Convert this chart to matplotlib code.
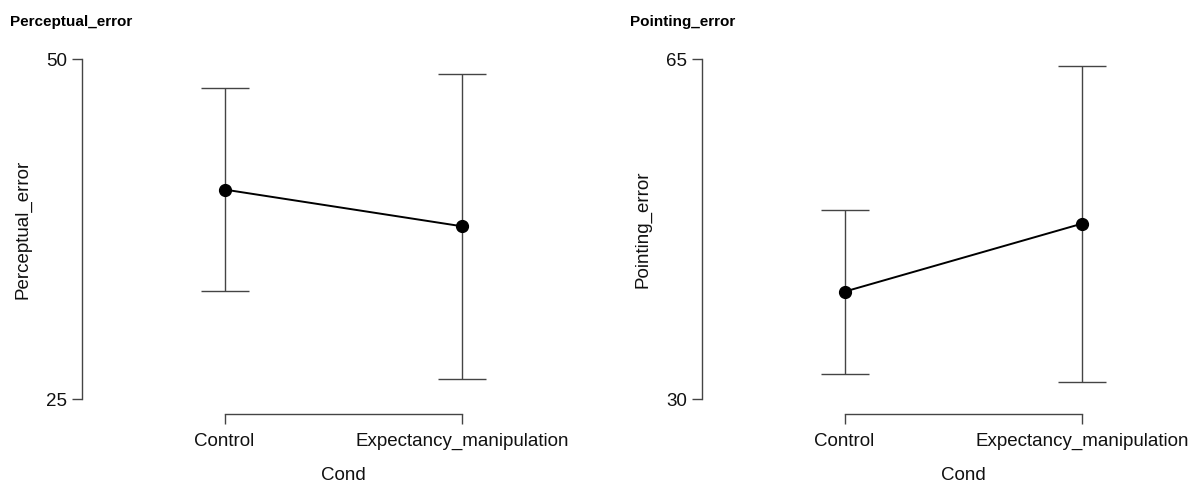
import matplotlib
matplotlib.use("Agg")
import matplotlib.pyplot as plt

plt.rcParams['font.family'] = ['Liberation Sans', 'DejaVu Sans']

# ---- data ----
conds = ["Control", "Expectancy_manipulation"]

perc_mean = [40.4, 37.7]
perc_ci = [7.45, 11.2]

point_mean = [41.05, 48.05]
point_ci = [8.45, 16.25]

panels = [
    ("Perceptual_error", perc_mean, perc_ci, (25, 50)),
    ("Pointing_error", point_mean, point_ci, (30, 65)),
]

W, H = 1195, 484
fig = plt.figure(figsize=(W / 100, H / 100), dpi=100)

# pixel layout of each plot region
lefts = [82, 702]
top_px, bot_px = 59, 399

for k, (name, mean, ci, yr) in enumerate(panels):
    l = lefts[k]
    r = l + 2.2 * 237.5
    ax = fig.add_axes([l / W, (H - bot_px) / H, (r - l) / W, (bot_px - top_px) / H])
    x = list(range(len(conds)))
    ax.errorbar(x, mean, yerr=ci, fmt='none', ecolor='#444444', elinewidth=1.0,
                capsize=17, capthick=1.0, zorder=1)
    ax.plot(x, mean, color='black', lw=1.4, marker='o', ms=8.5, zorder=2)
    ax.set_xlim(-0.6, 1.6)
    ax.set_ylim(yr)
    ax.set_yticks(list(yr))
    ax.set_xticks(x)
    ax.set_xticklabels(conds)
    for s in ['top', 'right']:
        ax.spines[s].set_visible(False)
    ax.spines['bottom'].set_position(('outward', 10.5))
    ax.spines['bottom'].set_bounds(0, 1)
    ax.spines['left'].set_bounds(yr[0], yr[1])
    for s in ['bottom', 'left']:
        ax.spines[s].set_color('#444444')
        ax.spines[s].set_linewidth(1.0)
    ax.tick_params(length=7, width=1.0, color='#444444', labelsize=13.5,
                   labelcolor='#111111')
    ax.tick_params(axis='x', pad=7)
    ax.tick_params(axis='y', pad=4)
    ax.set_xlabel("Cond", fontsize=13.5, labelpad=12, color='#111111')
    ax.set_ylabel(name, fontsize=13.5, labelpad=10, color='#111111')
    ax.patch.set_visible(False)
    fig.text((l - 72) / W, 1 - 22 / H, name, fontsize=11, fontweight='bold',
             ha='left', va='center')

fig.savefig("out.png", dpi=100)
